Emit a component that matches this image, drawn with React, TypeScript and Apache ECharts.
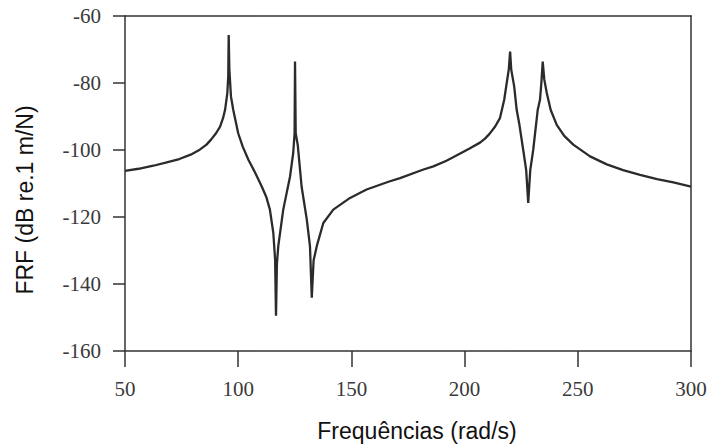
import React, { useEffect, useRef } from "react";
import * as echarts from "echarts";

const freq = [
  50, 56, 62.5, 68, 74, 79, 83, 86, 88, 90.2, 92, 93.3, 94.2, 95.2, 95.6, 95.8, 96.1, 96.8, 97.8,
  100, 102, 104.5, 107.5, 110.4, 112.5, 114, 115.5, 116.3, 116.7, 117.1, 117.7, 119.9, 121.5,
  122.9, 124.3, 124.9, 125.1, 125.4, 126.3, 128, 130.3, 131.7, 132.5, 133.3, 134.7, 137.6, 142,
  149.4, 156.7, 166.7, 171.5, 181.5, 186.2, 192, 197, 202, 206.8, 209, 211, 213.5, 215.6, 217.5,
  218.6, 219.5, 220.1, 220.6, 221.9, 223, 224.1, 225.9, 227.2, 228.1, 229, 230.3, 232.3, 233.3,
  233.9, 234.5, 235.2, 236.3, 238, 240.7, 244, 248, 255.4, 262.8, 270, 277.5, 285, 292.2, 300,
];
const frf = [
  -106.2, -105.6, -104.7, -103.8, -102.7, -101.4, -99.9, -98.4, -96.9, -95, -93, -90.5, -88, -83,
  -78, -65.7, -76, -84, -88, -95, -99, -102.9, -106.8, -110.9, -114.2, -117.8, -124.7, -132.7,
  -149.5, -134, -128.7, -117.8, -112.5, -107.9, -100.9, -95, -73.6, -95, -98.5, -110.9, -120.8,
  -128.7, -144.1, -133, -128.7, -121.8, -117.8, -114.3, -111.8, -109.4, -108.4, -105.9, -104.9,
  -103.2, -101.4, -99.6, -97.8, -96.6, -95.2, -93, -90.5, -85, -80, -76, -70.6, -76, -81, -88,
  -92, -100, -106, -115.8, -106, -100, -88, -85, -80, -73.6, -79, -83, -88, -92.5, -95.8, -98.4,
  -101.9, -104.3, -106, -107.4, -108.7, -109.7, -110.9,
];
const xTicks = [50, 100, 150, 200, 250, 300];
const yTicks = [-160, -140, -120, -100, -80, -60];
const xTitle = "Frequências (rad/s)";
const yTitle = "FRF (dB re.1 m/N)";

export default function App() {
  const ref = useRef<HTMLDivElement>(null);
  useEffect(() => {
    if (!ref.current) return;
    const chart = echarts.init(ref.current, null, { renderer: "svg" });
    const axisColor = "#333";
    const labelStyle = {
      fontFamily: "Liberation Serif, serif",
      fontSize: 21,
      color: "#3a3a3a",
    };
    chart.setOption({
      animation: false,
      backgroundColor: "#fff",
      grid: { left: 125, right: 21, top: 16, bottom: 95 },
      xAxis: [
        {
          type: "value",
          min: xTicks[0],
          max: xTicks[xTicks.length - 1],
          interval: 50,
          position: "bottom",
          axisLine: { show: true, lineStyle: { color: axisColor, width: 1.5 } },
          axisTick: { show: true, length: 16, lineStyle: { color: axisColor, width: 1.5 } },
          axisLabel: { ...labelStyle, margin: 27 },
          splitLine: { show: false },
        },
        {
          type: "value",
          min: xTicks[0],
          max: xTicks[xTicks.length - 1],
          position: "top",
          axisLine: { show: true, lineStyle: { color: axisColor, width: 1.5 } },
          axisTick: { show: false },
          axisLabel: { show: false },
          splitLine: { show: false },
        },
      ],
      yAxis: [
        {
          type: "value",
          min: yTicks[0],
          max: yTicks[yTicks.length - 1],
          interval: 20,
          position: "left",
          axisLine: { show: true, lineStyle: { color: axisColor, width: 1.5 } },
          axisTick: { show: true, length: 12, lineStyle: { color: axisColor, width: 1.5 } },
          axisLabel: { ...labelStyle, margin: 24 },
          splitLine: { show: false },
        },
        {
          type: "value",
          min: yTicks[0],
          max: yTicks[yTicks.length - 1],
          position: "right",
          axisLine: { show: true, lineStyle: { color: axisColor, width: 1.5 } },
          axisTick: { show: false },
          axisLabel: { show: false },
          splitLine: { show: false },
        },
      ],
      graphic: [
        {
          type: "text",
          x: 417,
          y: 431,
          style: {
            text: xTitle,
            fontFamily: "Liberation Sans, Arial, sans-serif",
            fontSize: 23,
            fill: "#111",
            align: "center",
            verticalAlign: "middle",
          },
        },
        {
          type: "text",
          x: 25,
          y: 200,
          rotation: Math.PI / 2,
          style: {
            text: yTitle,
            fontFamily: "Liberation Sans, Arial, sans-serif",
            fontSize: 23,
            fill: "#111",
            align: "center",
            verticalAlign: "middle",
          },
        },
      ],
      series: [
        {
          type: "line",
          xAxisIndex: 0,
          yAxisIndex: 0,
          data: freq.map((f, i) => [f, frf[i]]),
          showSymbol: false,
          smooth: false,
          lineStyle: { color: "#2b2b2b", width: 2.3 },
        },
      ],
    });
    return () => chart.dispose();
  }, []);
  return <div ref={ref} style={{ width: 712, height: 446, position: "absolute", left: 0, top: 0 }} />;
}
